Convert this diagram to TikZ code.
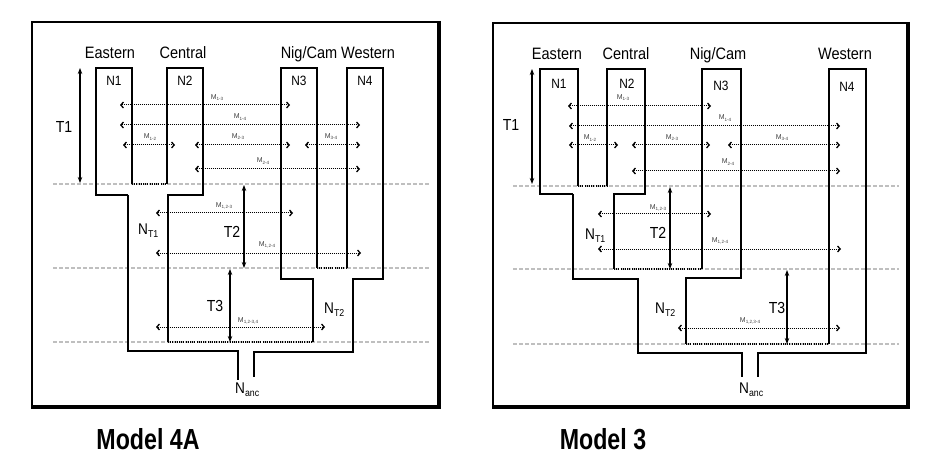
\documentclass[tikz,border=0pt]{standalone}
\usepackage{graphicx}
\usepackage{fontspec}
\setmainfont{Liberation Sans}
\usetikzlibrary{arrows.meta}
\newcommand{\cz}[1]{\scalebox{0.88}[1]{#1}}
\newcommand{\ms}[1]{\raisebox{-1.2pt}{\fontsize{4.6}{5}\selectfont #1}}
\newcommand{\ns}[1]{\raisebox{-3pt}{\fontsize{10}{11}\selectfont #1}}
\begin{document}
\begin{tikzpicture}[x=1pt,y=-1pt,
  box/.style={line width=1.4pt, line join=miter},
  thickbox/.style={line width=2.4pt},
  gap/.style={line width=1.1pt, dash pattern=on 1pt off 1.2pt},
  tline/.style={draw=black!25, line width=2.2pt, dash pattern=on 4pt off 2pt},
  mig/.style={line width=1pt, dash pattern=on 1pt off 1pt,
    {Straight Barb[length=2.6pt,width=6pt,line width=1.3pt]}-{Straight Barb[length=2.6pt,width=6pt,line width=1.3pt]}},
  tarr/.style={line width=1.2pt, {Stealth[length=6pt,width=4.5pt]}-{Stealth[length=6pt,width=4.5pt]}},
  pop/.style={font=\fontsize{16.5}{18}\selectfont, inner sep=0pt, anchor=base},
  nlab/.style={font=\fontsize{13.5}{15}\selectfont, inner sep=0pt, anchor=base},
  tlab/.style={font=\fontsize{16}{18}\selectfont, inner sep=0pt, anchor=base},
  anc/.style={font=\fontsize{15.5}{18}\selectfont, inner sep=0pt, anchor=base west},
  mlab/.style={font=\fontsize{7}{8}\selectfont, text=black!75, inner sep=0pt},
  ttl/.style={font=\fontsize{29}{32}\selectfont\bfseries, inner sep=0pt, anchor=base},
  frame/.style={line width=1.3pt},
  shadow/.style={line width=3.6pt}]
\useasboundingbox (0,0) rectangle (946,476);

% ================= Model 4A =================
\draw[frame] (32,22) rectangle (439,407);
\draw[shadow] (439,21) -- (439,407) -- (31,407);
\foreach \yy in {184,268,342} \draw[tline] (53,\yy) -- (430,\yy);

% tree outline
\draw[box] (128,195) -- (96,195) -- (96,68) -- (132,68) -- (132,184);
\draw[box] (167,184) -- (167,68) -- (203,68) -- (203,195) -- (168,195) -- (168,342);
\draw[box] (128,195) -- (128,351);
\draw[thickbox] (127,351) -- (238,351);
\draw[box] (238,350) -- (238,380);
\draw[box] (313,342) -- (313,279) -- (281,279) -- (281,68) -- (317,68) -- (317,268);
\draw[box] (347,268) -- (347,68) -- (383,68) -- (383,279) -- (353,279) -- (353,352);
\draw[thickbox] (354,352) -- (254,352);
\draw[box] (254,351) -- (254,377);
\draw[gap] (132,184) -- (167,184);
\draw[gap] (317,268) -- (347,268);
\draw[gap] (168,342) -- (313,342);

% labels
\node[pop] (a-east) at (110,59) {\cz{Eastern}};
\node[pop] (a-cent) at (183,59) {\cz{Central}};
\node[pop] (a-nig)  at (309,59) {\cz{Nig/Cam}};
\node[pop] (a-west) at (368,59) {\cz{Western}};
\node[nlab] (a-n1) at (114,86) {\cz{N1}};
\node[nlab] (a-n2) at (185,86) {\cz{N2}};
\node[nlab] (a-n3) at (299,86) {\cz{N3}};
\node[nlab] (a-n4) at (365,86) {\cz{N4}};
\node[tlab] (a-t1) at (64,133) {\cz{T1}};
\node[tlab] (a-t2) at (232,237) {\cz{T2}};
\node[tlab] (a-t3) at (215,311) {\cz{T3}};
\node[anc] (a-nt1) at (138,234) {\cz{N\ns{T1}}};
\node[anc] (a-nt2) at (324,313) {\cz{N\ns{T2}}};
\node[anc] (a-nanc) at (235,393) {\cz{N\ns{anc}}};

% time arrows
\draw[tarr] (80,68) -- (80,183);
\draw[tarr] (244,185) -- (244,268);
\draw[tarr] (230,269) -- (230,342);

% migration arrows
\draw[mig] (120,105) -- (290,105);
\node[mlab] (a-m13) at (217,98) {M\ms{1-3}};
\draw[mig] (120,125) -- (360,125);
\node[mlab] (a-m14) at (240,117) {M\ms{1-4}};
\draw[mig] (123,145) -- (175,145);
\node[mlab] (a-m12) at (150,137) {M\ms{1-2}};
\draw[mig] (195,145) -- (290,145);
\node[mlab] (a-m23) at (238,137) {M\ms{2-3}};
\draw[mig] (305,145) -- (360,145);
\node[mlab] (a-m34) at (331,137) {M\ms{3-4}};
\draw[mig] (195,169) -- (360,169);
\node[mlab] (a-m24) at (263,161) {M\ms{2-4}};
\draw[mig] (156,213) -- (293,213);
\node[mlab] (a-m123) at (224,206) {M\ms{1,2-3}};
\draw[mig] (156,253) -- (361,253);
\node[mlab] (a-m124) at (267,245) {M\ms{1,2-4}};
\draw[mig] (156,327) -- (325,327);
\node[mlab] (a-m1234) at (248,321) {M\ms{1,2-3,4}};

\node[ttl] (a-title) at (148,449) {\scalebox{0.8}[1]{Model 4A}};

% ================= Model 3 =================
\draw[frame] (493,23) rectangle (908,407);
\draw[shadow] (908,22) -- (908,407) -- (492,407);
\foreach \yy in {186,269,344} \draw[tline] (513,\yy) -- (899,\yy);

\draw[box] (573,194) -- (540,194) -- (540,69) -- (578,69) -- (578,186);
\draw[box] (607,186) -- (607,69) -- (645,69) -- (645,194) -- (614,194) -- (614,269);
\draw[box] (573,194) -- (573,279) -- (638,279) -- (638,353) -- (742,353) -- (742,377);
\draw[box] (702,269) -- (702,69) -- (741,69) -- (741,278) -- (686,278) -- (686,344);
\draw[box] (829,344) -- (829,69) -- (866,69) -- (866,353) -- (758,353) -- (758,377);
\draw[gap] (578,186) -- (607,186);
\draw[gap] (614,269) -- (702,269);
\draw[gap] (686,344) -- (829,344);

\node[pop] (b-east) at (557,60) {\cz{Eastern}};
\node[pop] (b-cent) at (626,60) {\cz{Central}};
\node[pop] (b-nig)  at (718,60) {\cz{Nig/Cam}};
\node[pop] (b-west) at (845,60) {\cz{Western}};
\node[nlab] (b-n1) at (559,89) {\cz{N1}};
\node[nlab] (b-n2) at (627,89) {\cz{N2}};
\node[nlab] (b-n3) at (721,91) {\cz{N3}};
\node[nlab] (b-n4) at (847,92) {\cz{N4}};
\node[tlab] (b-t1) at (511,131) {\cz{T1}};
\node[tlab] (b-t2) at (658,238) {\cz{T2}};
\node[tlab] (b-t3) at (777,313) {\cz{T3}};
\node[anc] (b-nt1) at (585,240) {\cz{N\ns{T1}}};
\node[anc] (b-nt2) at (655,313) {\cz{N\ns{T2}}};
\node[anc] (b-nanc) at (739,393) {\cz{N\ns{anc}}};

\draw[tarr] (532,69) -- (532,184);
\draw[tarr] (670,187) -- (670,269);
\draw[tarr] (787,270) -- (787,344);

\draw[mig] (568,106) -- (711,106);
\node[mlab] (b-m13) at (623,98) {M\ms{1-3}};
\draw[mig] (569,126) -- (840,126);
\node[mlab] (b-m14) at (725,118) {M\ms{1-4}};
\draw[mig] (569,145) -- (618,145);
\node[mlab] (b-m12) at (590,138) {M\ms{1-2}};
\draw[mig] (632,145) -- (710,145);
\node[mlab] (b-m23) at (672,138) {M\ms{2-3}};
\draw[mig] (728,145) -- (840,145);
\node[mlab] (b-m34) at (782,138) {M\ms{3-4}};
\draw[mig] (632,171) -- (840,171);
\node[mlab] (b-m24) at (728,162) {M\ms{2-4}};
\draw[mig] (598,214) -- (711,214);
\node[mlab] (b-m123) at (658,208) {M\ms{1,2-3}};
\draw[mig] (598,249) -- (841,249);
\node[mlab] (b-m124) at (720,241) {M\ms{1,2-4}};
\draw[mig] (678,328) -- (840,328);
\node[mlab] (b-m1234) at (750,321) {M\ms{1,2,3-4}};

\node[ttl] (b-title) at (603,449) {\scalebox{0.8}[1]{Model 3}};
\end{tikzpicture}
\end{document}
